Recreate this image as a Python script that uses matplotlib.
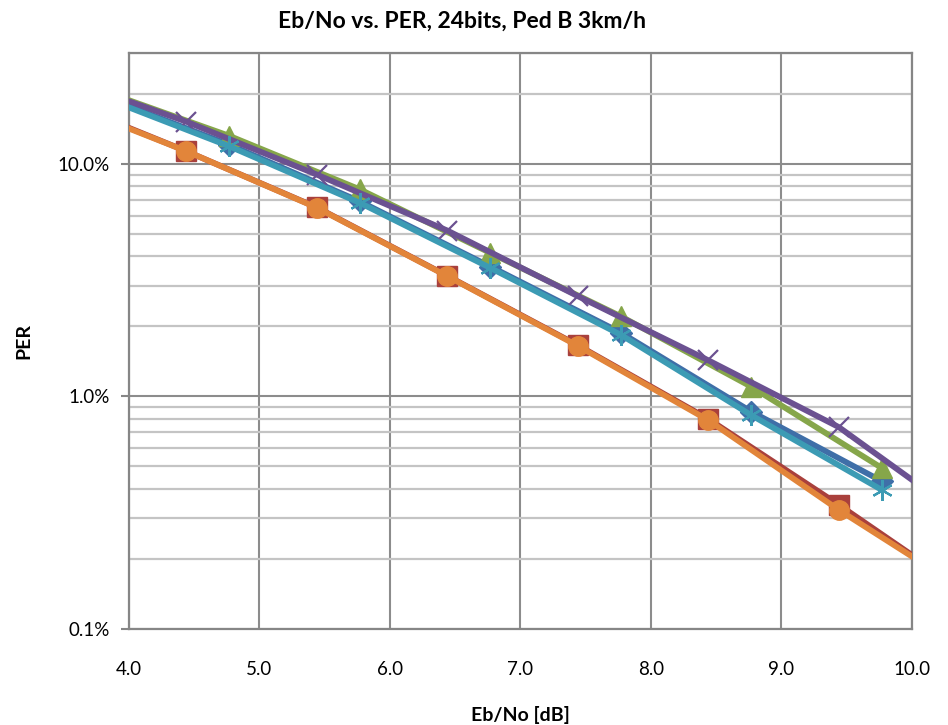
import matplotlib
matplotlib.use("Agg")
import matplotlib.pyplot as plt
from matplotlib.ticker import FixedLocator, LogLocator, NullFormatter

# Eb/No points (first / last entries carry the line out to the axis edges, no marker there)
ebno_a = [4.0, 4.44, 5.44, 6.44, 7.44, 8.44, 9.44, 10.0]
ebno_b = [4.0, 4.77, 5.77, 6.77, 7.77, 8.77, 9.77]

per_blue = [0.177, 0.121, 0.0690, 0.0362, 0.0188, 0.0086, 0.00432]
per_red = [0.143, 0.1135, 0.0650, 0.0330, 0.0166, 0.0080, 0.00342, 0.00208]
per_green = [0.188, 0.132, 0.0777, 0.0414, 0.0221, 0.0110, 0.00492]
per_purple = [0.186, 0.152, 0.0900, 0.0517, 0.0270, 0.0143, 0.00738, 0.00438]
per_cyan = [0.175, 0.119, 0.0680, 0.0357, 0.0184, 0.0083, 0.00396]
per_orange = [0.142, 0.1135, 0.0648, 0.0329, 0.0165, 0.0079, 0.00325, 0.00205]

x_ticks = [4.0, 5.0, 6.0, 7.0, 8.0, 9.0, 10.0]
y_ticks = [0.001, 0.01, 0.1]
y_ticklabels = ["0.1%", "1.0%", "10.0%"]

plt.rcParams["font.family"] = ["Lato", "DejaVu Sans"]

fig = plt.figure(figsize=(9.48, 7.25), dpi=100)
ax = fig.add_axes([0.136, 0.1324, 0.826, 0.7945])

marks = range(1, 7)
lw = 4.2
ax.plot(ebno_b, per_blue, color="#3F6FA8", lw=lw, marker="D", ms=11,
        markevery=marks, zorder=3)
ax.plot(ebno_a, per_red, color="#A9403C", lw=lw, marker="s", ms=14,
        markevery=marks, zorder=3)
ax.plot(ebno_b, per_green, color="#86A64A", lw=lw, marker="^", ms=14,
        markevery=marks, zorder=3)
ax.plot(ebno_a, per_purple, color="#6B5191", lw=lw, marker="x", ms=15,
        mew=1.6, markevery=marks, zorder=3)
ax.plot(ebno_b, per_cyan, color="#3C9BB4", lw=lw, marker=(6, 2, 0), ms=15,
        mew=1.6, markevery=marks, zorder=3)
ax.plot(ebno_a, per_orange, color="#E2853A", lw=lw, marker="o", ms=14,
        markevery=marks, zorder=3)

ax.set_yscale("log")
ax.set_xlim(4.0, 10.0)
ax.set_ylim(0.001, 0.3)
ax.xaxis.set_major_locator(FixedLocator(x_ticks))
ax.set_xticklabels([f"{v:.1f}" for v in x_ticks], fontsize=13.5)
ax.yaxis.set_major_locator(FixedLocator(y_ticks))
ax.set_yticklabels(y_ticklabels, fontsize=13.5)
ax.yaxis.set_minor_locator(LogLocator(base=10, subs=range(2, 10)))
ax.yaxis.set_minor_formatter(NullFormatter())

ax.grid(which="major", axis="both", color="#8C8C8C", lw=1.5, zorder=1)
ax.grid(which="minor", axis="y", color="#C4C4C4", lw=1.6, zorder=1)
ax.set_axisbelow(True)

ax.tick_params(axis="x", which="both", length=0, pad=23)
ax.tick_params(axis="y", which="major", length=6, width=1.5, color="#868686", pad=8)
ax.tick_params(axis="y", which="minor", length=0)
for s in ax.spines.values():
    s.set_color("#868686")
    s.set_linewidth(1.6)

ax.set_xlabel("Eb/No [dB]", fontsize=14, fontweight="bold", labelpad=20)
ax.set_ylabel("PER", fontsize=14, fontweight="bold", labelpad=18)
fig.text(0.487, 0.985, "Eb/No vs. PER, 24bits, Ped B 3km/h", ha="center", va="top",
         fontsize=16.5, fontweight="bold")

plt.savefig("out.png", dpi=100)
plt.close()
